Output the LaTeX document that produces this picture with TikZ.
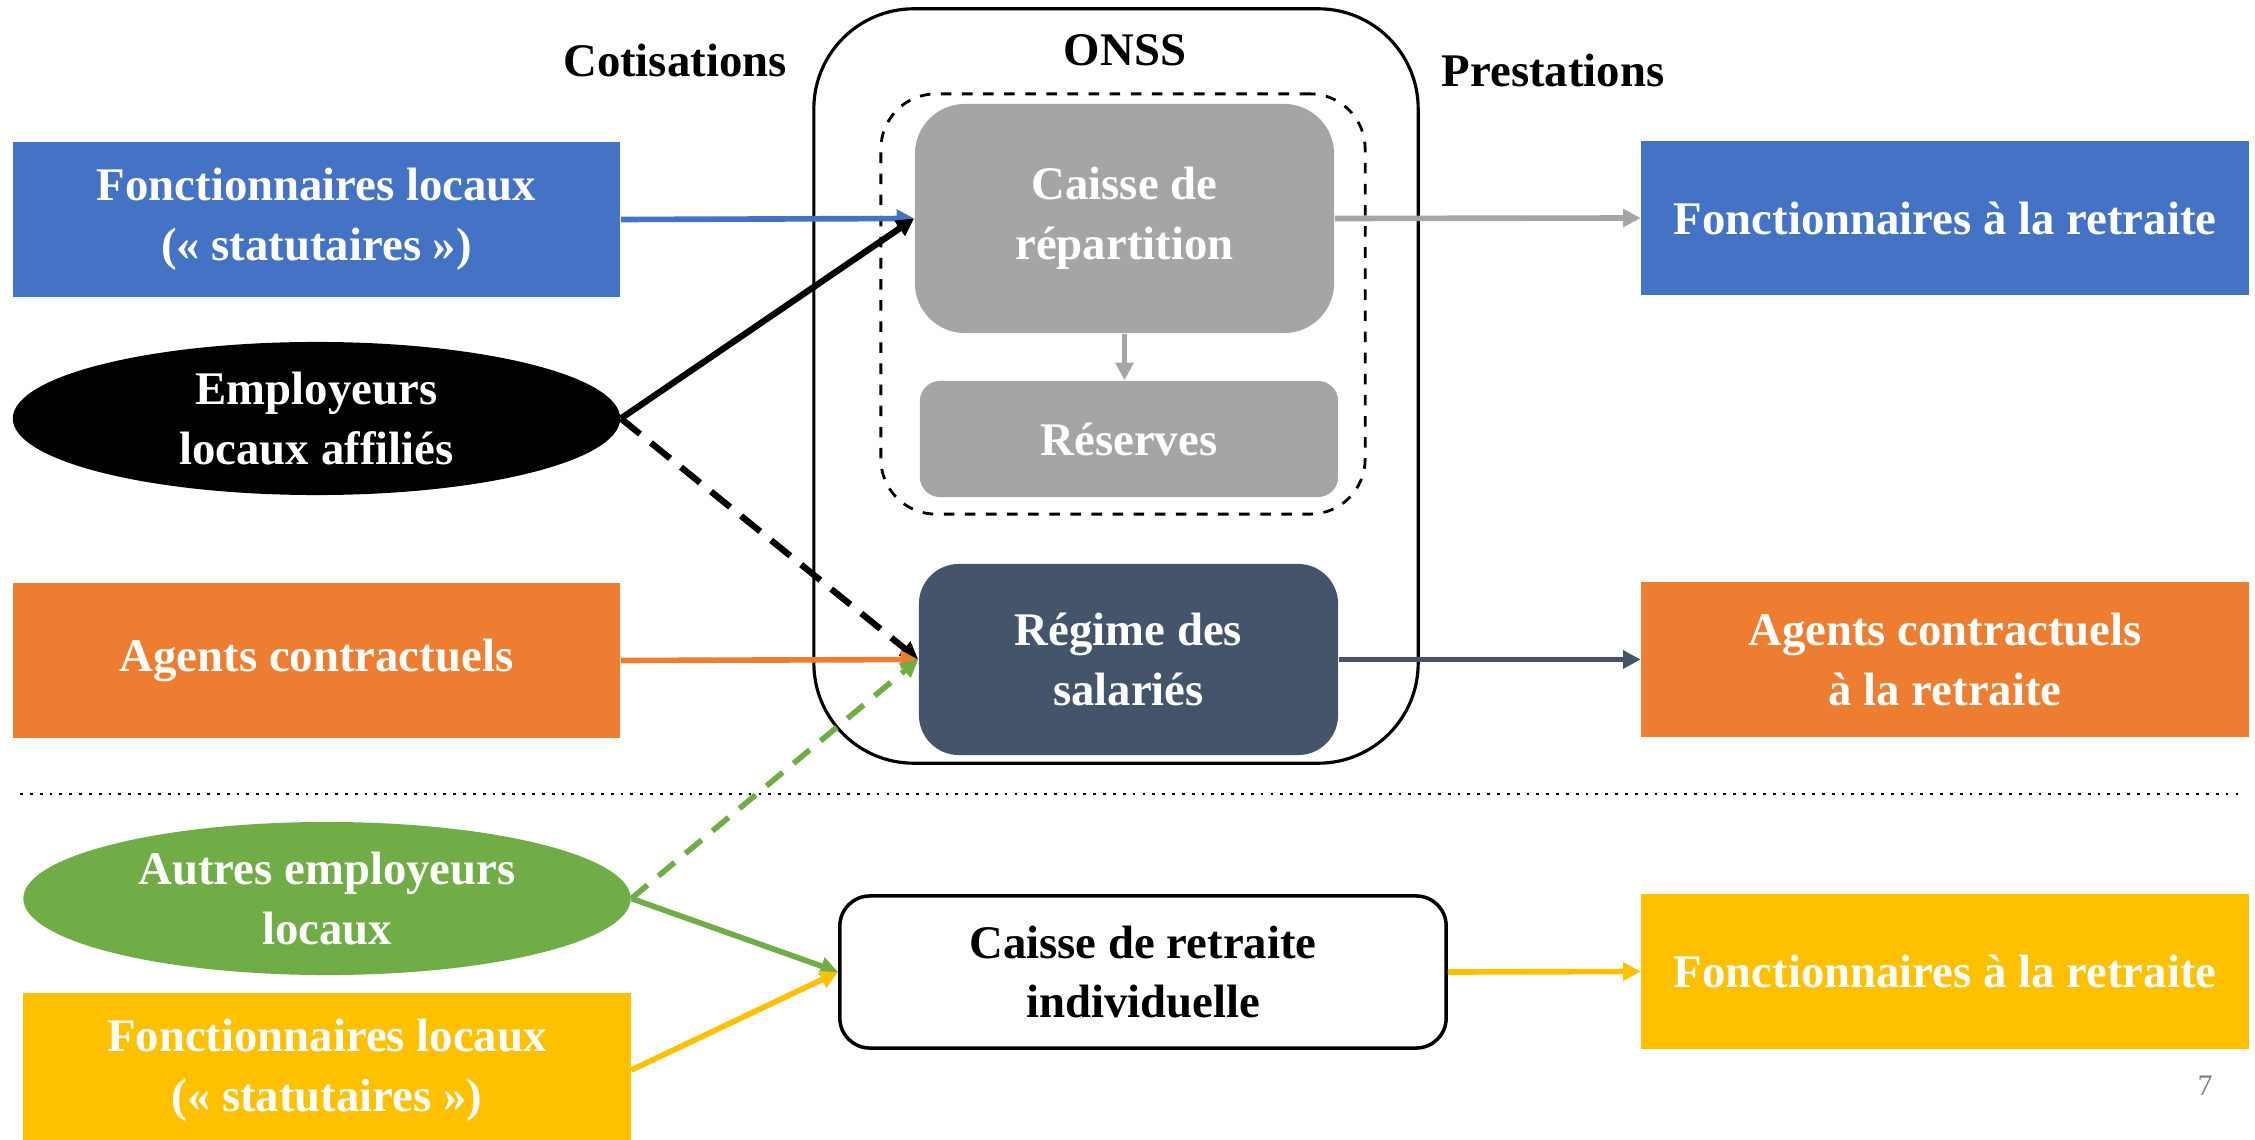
\documentclass[tikz,border=0pt]{standalone}
\usepackage{fontspec}
\setmainfont{Liberation Serif}
\usetikzlibrary{shapes,arrows.meta,positioning}
\definecolor{officeblue}{RGB}{68,114,196}
\definecolor{officeorange}{RGB}{237,125,49}
\definecolor{officegray}{RGB}{165,165,165}
\definecolor{slateblue}{RGB}{68,84,106}
\definecolor{officegreen}{RGB}{112,173,71}
\definecolor{officegold}{RGB}{255,192,0}

\begin{document}
\begin{tikzpicture}[x=0.01cm, y=-0.01cm,
    every node/.style={font=\fontsize{13.3}{17}\selectfont\bfseries, align=center},
    group/.style={fill=#1, text=white, minimum width=6.07cm, minimum height=1.54cm},
    employer/.style={ellipse, fill=#1, text=white, inner sep=0pt, minimum width=6.07cm, minimum height=1.53cm},
    fund/.style={fill=#1, text=white},
    heading/.style={anchor=base},
    flow/.style={draw=#1, line width=1.6pt, -{Triangle[length=5pt, width=5pt]}}]
        \clip (0,0) rectangle (2255,1140);

        % ONSS
        \node[draw, line width=0.9pt, rounded corners=1cm, minimum width=6.04cm, minimum height=7.54cm] (onss) at (1116,386) {};
        \node[draw, dashed, line width=0.8pt, rounded corners=0.55cm, minimum width=4.84cm, minimum height=4.2cm] (pool) at (1123,304) {};
        \node[fund=officegray, rounded corners=0.5cm, minimum width=4.19cm, minimum height=2.29cm] (repart) at (1124.5,218.5) {Caisse de\\répartition};
        \node[fund=officegray, rounded corners=0.2cm, minimum width=4.18cm, minimum height=1.16cm] (reserves) at (1129,439) {Réserves};
        \node[fund=slateblue, rounded corners=0.4cm, minimum width=4.19cm, minimum height=1.91cm] (regime) at (1128.5,659.5) {Régime des\\salariés};
        \node[draw, line width=1pt, rounded corners=0.3cm, minimum width=6.06cm, minimum height=1.52cm] (caisseInd) at (1143,972) {Caisse de retraite\\individuelle};

        \node[heading] (cotis) at (675,77) {Cotisations};
        \node[heading] (onssTitle) at (1125,66) {ONSS};
        \node[heading] (prest) at (1553,87) {Prestations};

        % cotisants
        \node[group=officeblue] (fonctLoc) at (316.5,219.5) {Fonctionnaires locaux\\(« statutaires »)};
        \node[employer=black] (employeurs) at (316.5,418.5) {Employeurs\\locaux affiliés};
        \node[group=officeorange] (agents) at (316.5,660.5) {Agents contractuels};
        \node[employer=officegreen] (autres) at (327,898.5) {Autres employeurs\\locaux};
        \node[group=officegold] (fonctStat) at (327,1070) {Fonctionnaires locaux\\(« statutaires »)};

        % beneficiaires
        \node[group=officeblue] (retFonct) at (1945,218) {Fonctionnaires à la retraite};
        \node[group=officeorange] (retAgents) at (1945,659.5) {Agents contractuels\\à la retraite};
        \node[group=officegold] (retStat) at (1945,971.5) {Fonctionnaires à la retraite};

        \draw[dotted, line width=0.8pt] (20,794) -- (2241,794);
        \node[font=\fontsize{8.5}{10}\selectfont, text=gray] (page) at (2205,1086) {7};

        \draw[flow=officeblue] (fonctLoc.east) -- (repart.west);
        \draw[flow=black, line width=1.8pt] (employeurs.east) -- (repart.west);
        \draw[flow=black, line width=1.8pt, dash pattern=on 7pt off 4pt] (employeurs.east) -- (regime.west);
        \draw[flow=officeorange] (agents.east) -- (regime.west);
        \draw[flow=officegreen, dash pattern=on 6pt off 4pt] (autres.east) -- (regime.west);
        \draw[flow=officegreen] (autres.east) -- (caisseInd.west);
        \draw[flow=officegold] (fonctStat.east) -- (caisseInd.west);
        \draw[flow=officegray] (repart.south) -- (repart.south |- reserves.north);
        \draw[flow=officegray] (repart.east) -- (retFonct.west);
        \draw[flow=slateblue] (regime.east) -- (retAgents.west);
        \draw[flow=officegold] (caisseInd.east) -- (retStat.west);
    \end{tikzpicture}
\end{document}
